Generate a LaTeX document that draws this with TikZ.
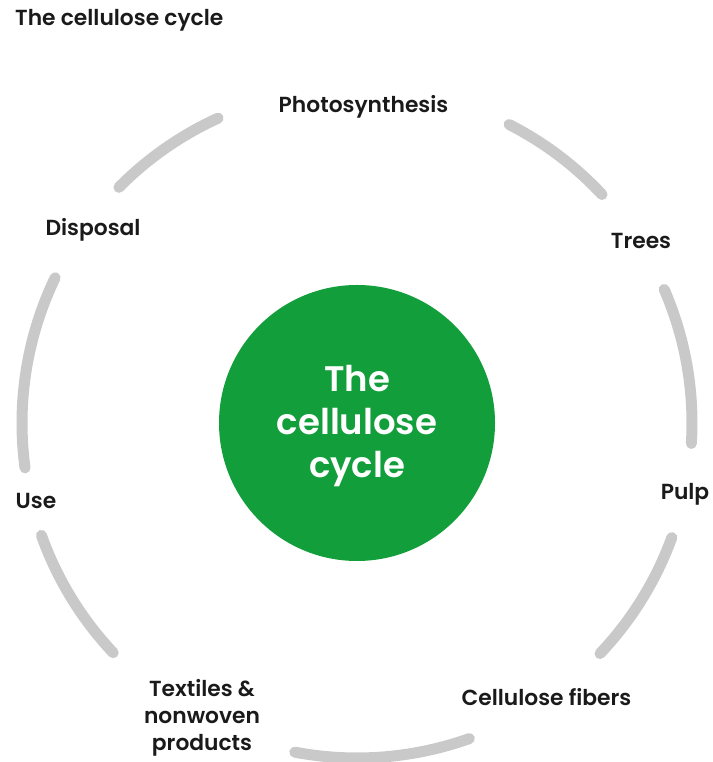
\documentclass[tikz,border=0pt]{standalone}
\usepackage{fontspec}
\setmainfont{Poppins}
\newfontfamily\lblfont{Poppins SemiBold}
\definecolor{ringgray}{HTML}{C9C9C9}
\definecolor{cgreen}{HTML}{129E3B}
\definecolor{txt}{HTML}{1A1A1A}
\begin{document}
\begin{tikzpicture}[x=1pt,y=1pt,
  ringarc/.style={draw=ringgray,line width=11pt,line cap=round},
  lbl/.style={font=\lblfont\fontsize{21.8}{27}\selectfont,text=txt,inner sep=0pt},
  centre/.style={circle,fill=cgreen,minimum size=276pt,inner sep=0pt}]
\useasboundingbox (0,0) rectangle (712,762);
\coordinate (C) at (357,339);
\node[centre] (hub) at (C) {};
\node[text=white,align=center,font=\lblfont\fontsize{35.5}{43}\selectfont,inner sep=0pt] (hubtext) at (357,336) {The\\cellulose\\cycle};
% ring arcs
\foreach \a/\b in {114.5/135.3, 43/63, -3.5/23.5, -43.5/-20, -100.7/-70.4, 199.6/223.3, 154.3/187.7}
  \draw[ringarc] ([shift={(\a:335pt)}]C) arc[start angle=\a, end angle=\b, radius=335pt];
% labels
\node[lbl,anchor=base west] (title) at (15,736) {The cellulose cycle};
\node[lbl,anchor=base] (photo) at (363.5,649) {Photosynthesis};
\node[lbl,anchor=base] (trees) at (641,513) {Trees};
\node[lbl,anchor=base] (pulp) at (685,262) {Pulp};
\node[lbl,anchor=base] (fibers) at (546.5,56) {Cellulose fibers};
\node[lbl,anchor=base,align=center] (textiles) at (202,11) {Textiles \&\\nonwoven\\products};
\node[lbl,anchor=base] (use) at (36,253) {Use};
\node[lbl,anchor=base] (disposal) at (93,526) {Disposal};
\end{tikzpicture}
\end{document}
